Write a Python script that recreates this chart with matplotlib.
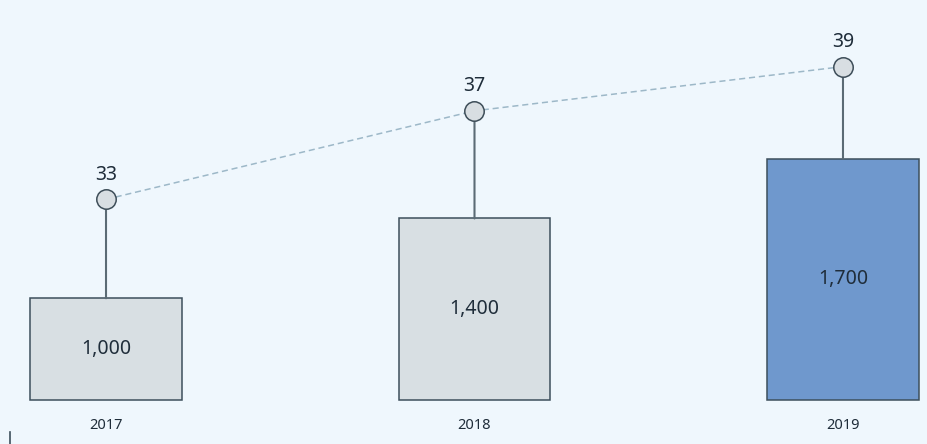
import matplotlib
matplotlib.use("Agg")
import matplotlib.pyplot as plt
from matplotlib.patches import ConnectionPatch
from matplotlib.lines import Line2D

years = ["2017", "2018", "2019"]
bar_values = [1000, 1400, 1700]
bar_labels = ["1,000", "1,400", "1,700"]
line_values = [33, 37, 39]

plt.rcParams['font.family'] = ['Noto Sans', 'DejaVu Sans']

BG = '#eff7fd'
BASE = 490
fig = plt.figure(figsize=(9.27, 4.44), dpi=100, facecolor=BG)
ax = fig.add_axes([0, 44 / 444, 1, 400 / 444])
ax.set_facecolor(BG)
ax2 = ax.twinx()

x = list(range(len(years)))
bar_colors = ['#d8dfe3', '#d8dfe3', '#6f98cd']
bars = ax.bar(x, [v - BASE for v in bar_values], width=0.41, bottom=BASE,
              color=bar_colors, edgecolor='#3d4f5c', linewidth=1.1, zorder=2)
for b in bars:
    b.set_clip_on(False)
ax.set_ylim(BASE, 2495)
ax.set_xlim(-0.2877, 2.228)

for xi, v, lab in zip(x, bar_values, bar_labels):
    ax.text(xi, (v + BASE) / 2, lab, ha='center', va='center', fontsize=14,
            color='#1f2d3a', zorder=3)

ax2.set_ylim(23.93, 42.01)
ax2.plot(x, line_values, linestyle=(0, (4, 2.5)), color='#9db8c8', lw=1.1, zorder=1)
ax2.plot(x, line_values, linestyle='none', marker='o', markersize=14,
         markerfacecolor='#d8dee2', markeredgecolor='#3e4e59', markeredgewidth=1.1,
         zorder=5)
for xi, v in zip(x, line_values):
    ax2.annotate(str(v), (xi, v), xytext=(0, 14), textcoords='offset points',
                 ha='center', va='baseline', fontsize=14, color='#1f2d3a')

for xi, bv, lv in zip(x, bar_values, line_values):
    con = ConnectionPatch(xyA=(xi, bv), coordsA=ax.transData,
                          xyB=(xi, lv), coordsB=ax2.transData,
                          color='#5b6b75', lw=1.5, zorder=0)
    ax2.add_artist(con)

ax.set_xticks(x)
ax.set_xticklabels(years, fontsize=10.5, color='#1f2d3a')
ax.tick_params(axis='x', length=0, pad=13)
ax.set_yticks([])
ax2.set_yticks([])
for a in (ax, ax2):
    for s in a.spines.values():
        s.set_visible(False)

fig.add_artist(Line2D([10 / 927, 10 / 927], [0, 12 / 444], color='#3d4f5c', lw=1.2))

fig.savefig('out.png', dpi=100, facecolor=BG)
